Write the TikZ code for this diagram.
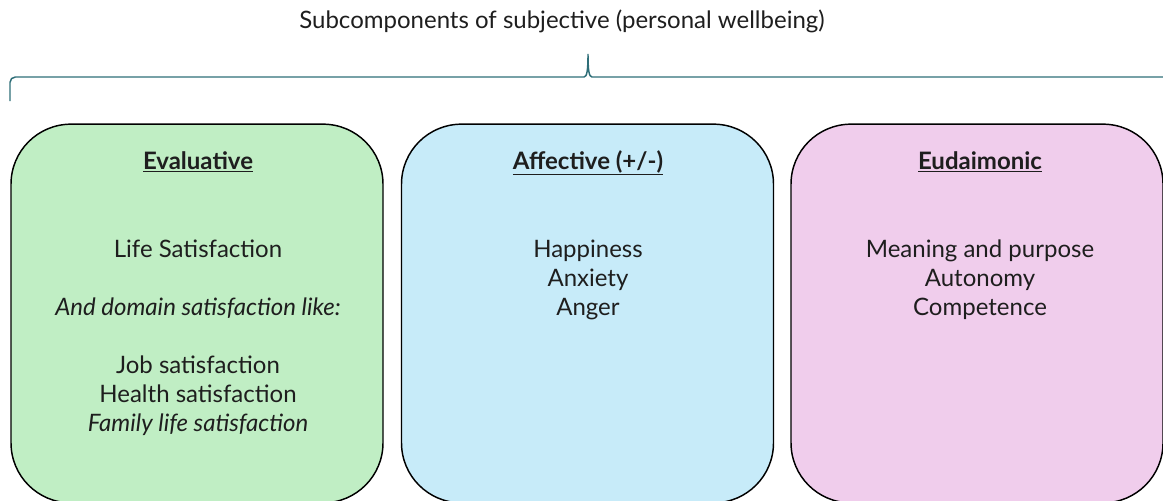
\documentclass[tikz,border=0pt]{standalone}
\usepackage{fontspec}
\setmainfont{Lato}
\usetikzlibrary{positioning}
\definecolor{evalgreen}{HTML}{C0EEC4}
\definecolor{affblue}{HTML}{C7EBF9}
\definecolor{eudpink}{HTML}{F0CDEC}
\definecolor{bracecol}{HTML}{2E6E78}
\definecolor{inkgray}{HTML}{1E1E1E}

\begin{document}
\begin{tikzpicture}
		[x=0.75pt,y=-0.75pt,
		box/.style={draw=black,line width=1.1pt,rounded corners=45pt,minimum width=279pt,minimum height=284pt,inner sep=0pt},
		head/.style={font=\fontsize{18}{21.75}\selectfont\bfseries,text=inkgray,anchor=base,inner sep=0pt},
		body/.style={font=\fontsize{18}{21.75}\selectfont,text=inkgray,align=center,anchor=base,inner sep=0pt},
		bracepath/.style={draw=bracecol,line width=1.1pt}]
		\useasboundingbox (0,0) rectangle (1163,500);
		\clip (0,0) rectangle (1163,500);
		
		\node[body] (title) at (562,28) {Subcomponents of subjective (personal wellbeing)};
		
		% the brace over all three parts
		\coordinate (bl) at (10,101);
		\coordinate (tip) at (588,54);
		\coordinate (br) at (1172,101);
		\draw[bracepath] (bl) [rounded corners=4pt] -- (10,77) -- (200,77) [sharp corners] -- (584,77)
		.. controls (587,77) and (588,70) .. (tip)
		.. controls (588,70) and (589,77) .. (592,77) -- (1000,77) [rounded corners=4pt] -- (1172,77) -- (br);
		
		\node[box,fill=evalgreen] (eval) at (197,313.5) {};
		\node[box,fill=affblue] (aff) at (587.5,313.5) {};
		\node[box,fill=eudpink] (eud) at (977,313.5) {};
		
		\node[head] (evalhead) at (198,169) {\underline{Evaluative}};
		\node[head] (affhead) at (588,169) {\underline{Affective (+/-)}};
		\node[head] (eudhead) at (980,169) {\underline{Eudaimonic}};
		
		% anchor base = last line
		\node[body] (evaltext) at (198,431) {Life Satisfaction\\[21.75pt]
			\textit{And domain satisfaction like:}\\[21.75pt]
			Job satisfaction\\ Health satisfaction\\ \textit{Family life satisfaction}};
		\node[body] (afftext) at (588,315) {Happiness\\ Anxiety\\ Anger};
		\node[body] (eudtext) at (980,315) {Meaning and purpose\\ Autonomy\\ Competence};
\end{tikzpicture}
\end{document}
